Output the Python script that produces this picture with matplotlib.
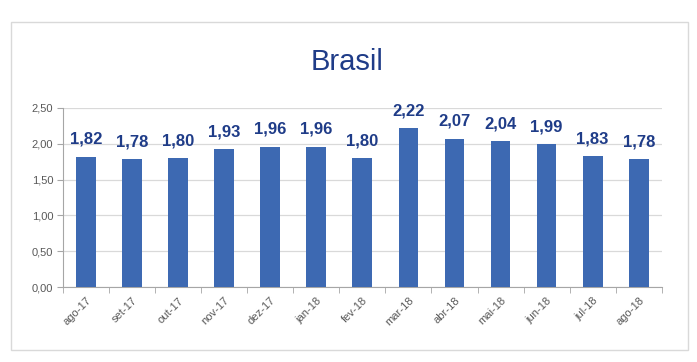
import matplotlib.pyplot as plt
from matplotlib.patches import Rectangle

meses = ["ago-17", "set-17", "out-17", "nov-17", "dez-17", "jan-18", "fev-18",
         "mar-18", "abr-18", "mai-18", "jun-18", "jul-18", "ago-18"]
valores = [1.82, 1.78, 1.80, 1.93, 1.96, 1.96, 1.80, 2.22, 2.07, 2.04, 1.99, 1.83, 1.78]
yticks = [0.0, 0.5, 1.0, 1.5, 2.0, 2.5]

plt.rcParams['font.family'] = ['Liberation Sans', 'DejaVu Sans']

fig = plt.figure(figsize=(6.97, 3.62), dpi=100)
fig.patches.append(Rectangle((11 / 697, 12 / 362), 677 / 697, 328 / 362,
                             transform=fig.transFigure, fill=False,
                             edgecolor="#d9d9d9", linewidth=1))

ax = fig.add_axes([0.0904, 0.207, 0.859, 0.495])
x = range(len(meses))
bars = ax.bar(x, valores, 0.43, color="#3d69b2", zorder=3)

for i, v in enumerate(valores):
    ax.annotate(f"{v:.2f}".replace(".", ","), (i, v), xytext=(0, 7),
                textcoords="offset points", ha="center", va="bottom",
                fontsize=12, fontweight="bold", color="#1f3c88")

ax.set_xlim(-0.5, len(meses) - 0.5)
ax.set_ylim(0, 2.5)
ax.set_yticks(yticks)
ax.set_yticklabels([f"{t:.2f}".replace(".", ",") for t in yticks],
                   fontsize=8, color="#595959")
ax.set_xticks(list(x))
ax.set_xticklabels(meses, rotation=45, ha="right", rotation_mode="anchor",
                   fontsize=8, color="#595959")
ax.set_xticks([i - 0.5 for i in range(len(meses) + 1)], minor=True)
ax.tick_params(axis="x", which="major", length=0, pad=6)
ax.tick_params(axis="x", which="minor", length=4, color="#a6a6a6")
ax.tick_params(axis="y", length=4, color="#a6a6a6", pad=3)
ax.grid(axis="y", color="#d9d9d9", linewidth=0.9, zorder=0)

for s in ["top", "right"]:
    ax.spines[s].set_visible(False)
ax.spines["left"].set_color("#a6a6a6")
ax.spines["bottom"].set_color("#a6a6a6")

fig.text(0.498, 0.83, "Brasil", ha="center", va="center",
         fontsize=21, color="#1f3c88")

fig.savefig("out.png", dpi=100)
